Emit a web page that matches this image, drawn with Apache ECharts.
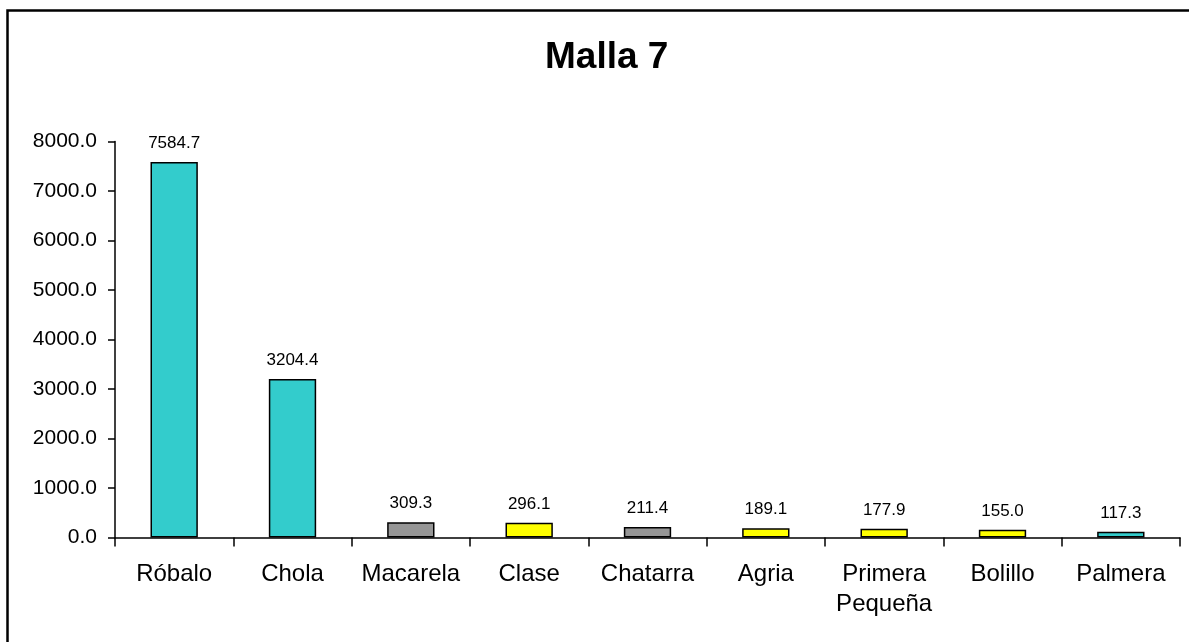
<!DOCTYPE html>
<html>
<head>
<meta charset="utf-8">
<title>Malla 7</title>
<script src="https://cdn.jsdelivr.net/npm/echarts@6/dist/echarts.min.js"></script>
<style>
	html, body { margin: 0; padding: 0; background: #fff; }
	#chart { width: 1189px; height: 642px; }
</style>
</head>
<body>
<div id="chart"></div>
<script>
	// datos
	var categorias = ['Róbalo', 'Chola', 'Macarela', 'Clase', 'Chatarra', 'Agria', 'Primera\nPequeña', 'Bolillo', 'Palmera'];
	var valores = [7584.7, 3204.4, 309.3, 296.1, 211.4, 189.1, 177.9, 155.0, 117.3];
	var grupos = ['a', 'a', 'b', 'c', 'b', 'c', 'c', 'c', 'a'];
	var ticksY = [0, 1000, 2000, 3000, 4000, 5000, 6000, 7000, 8000];

	var colores = { a: '#33CCCC', b: '#969696', c: '#FFFF00' };
	var fuente = '"Liberation Sans", Arial, sans-serif';

	var myChart = echarts.init(document.getElementById('chart'));
	var option = {
		animation: false,
		backgroundColor: '#fff',
		title: {
			text: 'Malla 7',
			left: 540,
			top: 34,
			textStyle: {
				fontFamily: fuente,
				fontSize: 37,
				fontWeight: 'bold',
				color: '#000'
			}
		},
		graphic: [{
			type: 'rect',
			shape: { x: 7.5, y: 10.5, width: 1300, height: 800 },
			style: { fill: 'none', stroke: '#000', lineWidth: 2.5 },
			silent: true
		}],
		grid: {
			left: 115,
			right: 9,
			top: 141.5,
			bottom: 104.5
		},
		xAxis: {
			type: 'category',
			data: categorias,
			axisLine: { lineStyle: { color: '#000', width: 1.5 } },
			axisTick: { show: true, length: 9, lineStyle: { color: '#000', width: 1.5 } },
			axisLabel: {
				color: '#000',
				fontFamily: fuente,
				fontSize: 24,
				lineHeight: 30,
				margin: 22,
				interval: 0
			}
		},
		yAxis: {
			type: 'value',
			min: ticksY[0],
			max: ticksY[ticksY.length - 1],
			interval: 1000,
			splitLine: { show: false },
			axisLine: { show: true, lineStyle: { color: '#000', width: 1.5 } },
			axisTick: { show: true, length: 7, lineStyle: { color: '#000', width: 1.5 } },
			axisLabel: {
				color: '#000',
				fontFamily: fuente,
				fontSize: 21,
				margin: 18,
				formatter: function (v) { return v.toFixed(1); }
			}
		},
		series: [{
			type: 'bar',
			barWidth: '40%',
			data: valores.map(function (v, i) {
				return { value: v, itemStyle: { color: colores[grupos[i]] } };
			}),
			itemStyle: { borderColor: '#000', borderWidth: 1.5 },
			label: {
				show: true,
				position: 'top',
				distance: 10,
				color: '#000',
				fontFamily: fuente,
				fontSize: 17,
				formatter: function (p) { return p.value.toFixed(1); }
			}
		}]
	};
	myChart.setOption(option);
</script>
</body>
</html>
